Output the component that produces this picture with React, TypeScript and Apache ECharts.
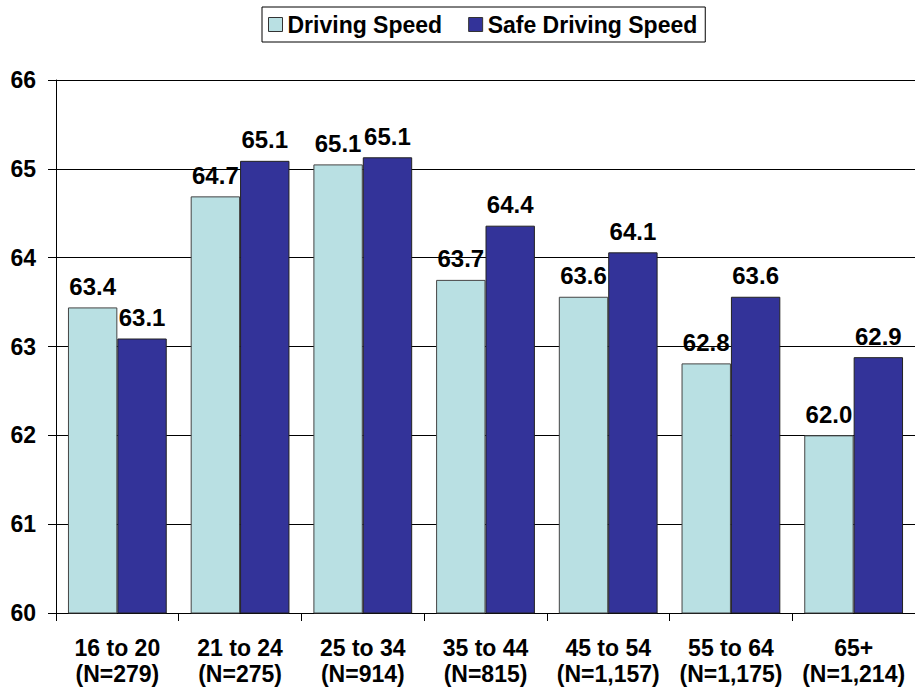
import React, { useEffect, useRef } from "react";
import * as echarts from "echarts";

const ageGroups = ["16 to 20", "21 to 24", "25 to 34", "35 to 44", "45 to 54", "55 to 64", "65+"];
const sampleSizes = ["279", "275", "914", "815", "1,157", "1,175", "1,214"];
const drivingSpeed = [63.44, 64.69, 65.05, 63.75, 63.56, 62.81, 62.0];
const safeDrivingSpeed = [63.09, 65.09, 65.13, 64.36, 64.06, 63.56, 62.88];
const drivingSpeedLabels = ["63.4", "64.7", "65.1", "63.7", "63.6", "62.8", "62.0"];
const safeDrivingSpeedLabels = ["63.1", "65.1", "65.1", "64.4", "64.1", "63.6", "62.9"];
const yTicks = { min: 60, max: 66, interval: 1 };

const FONT = "'Liberation Sans', Arial, sans-serif";

export default function App() {
  const ref = useRef<HTMLDivElement>(null);
  useEffect(() => {
    document.body.style.margin = "0";
    const chart = echarts.init(ref.current!, null, { renderer: "svg" });
    const categories = ageGroups.map((g, i) => `${g}\n(N=${sampleSizes[i]})`);
    const labelStyle = {
      show: true,
      position: "top" as const,
      distance: 9,
      color: "#000",
      fontFamily: FONT,
      fontWeight: "bold" as const,
      fontSize: 24,
      lineHeight: 24,
    };
    chart.setOption({
      animation: false,
      backgroundColor: "#fff",
      textStyle: { fontFamily: FONT },
      legend: {
        left: 262,
        top: 7,
        padding: [6, 8, 6, 6],
        borderColor: "#000",
        borderWidth: 1,
        itemWidth: 14,
        itemHeight: 14,
        itemGap: 26,
        icon: "rect",
        textStyle: { fontFamily: FONT, fontWeight: "bold", fontSize: 23, color: "#000" },
        data: [
          { name: "Driving Speed", itemStyle: { borderColor: "#333", borderWidth: 1 } },
          { name: "Safe Driving Speed", itemStyle: { borderColor: "#333", borderWidth: 1 } },
        ],
      },
      grid: { left: 56, right: -6, top: 80, bottom: 78, containLabel: false },
      xAxis: {
        type: "category",
        data: categories,
        axisLine: { show: true, lineStyle: { color: "#000", width: 1 } },
        axisTick: { show: true, length: 8, lineStyle: { color: "#000" } },
        axisLabel: {
          interval: 0,
          margin: 22,
          color: "#000",
          fontFamily: FONT,
          fontWeight: "bold",
          fontSize: 23,
          lineHeight: 26,
        },
      },
      yAxis: {
        type: "value",
        min: yTicks.min,
        max: yTicks.max,
        interval: yTicks.interval,
        axisLine: { show: true, lineStyle: { color: "#000", width: 1 } },
        axisTick: { show: true, length: 8, lineStyle: { color: "#000" } },
        splitLine: { show: true, lineStyle: { color: "#000", width: 1 } },
        axisLabel: {
          margin: 20,
          color: "#000",
          fontFamily: FONT,
          fontWeight: "bold",
          fontSize: 23,
        },
      },
      series: [
        {
          name: "Driving Speed",
          type: "bar",
          data: drivingSpeed,
          barGap: "0%",
          barCategoryGap: "19.5%",
          itemStyle: { color: "#B9E0E3", borderColor: "#444", borderWidth: 1 },
          label: { ...labelStyle, formatter: (p: any) => drivingSpeedLabels[p.dataIndex] },
        },
        {
          name: "Safe Driving Speed",
          type: "bar",
          data: safeDrivingSpeed,
          barGap: "0%",
          barCategoryGap: "19.5%",
          itemStyle: { color: "#333399", borderColor: "#222", borderWidth: 1 },
          label: { ...labelStyle, formatter: (p: any) => safeDrivingSpeedLabels[p.dataIndex] },
        },
      ],
    });
    return () => chart.dispose();
  }, []);
  return <div ref={ref} style={{ width: 915, height: 691 }} />;
}
